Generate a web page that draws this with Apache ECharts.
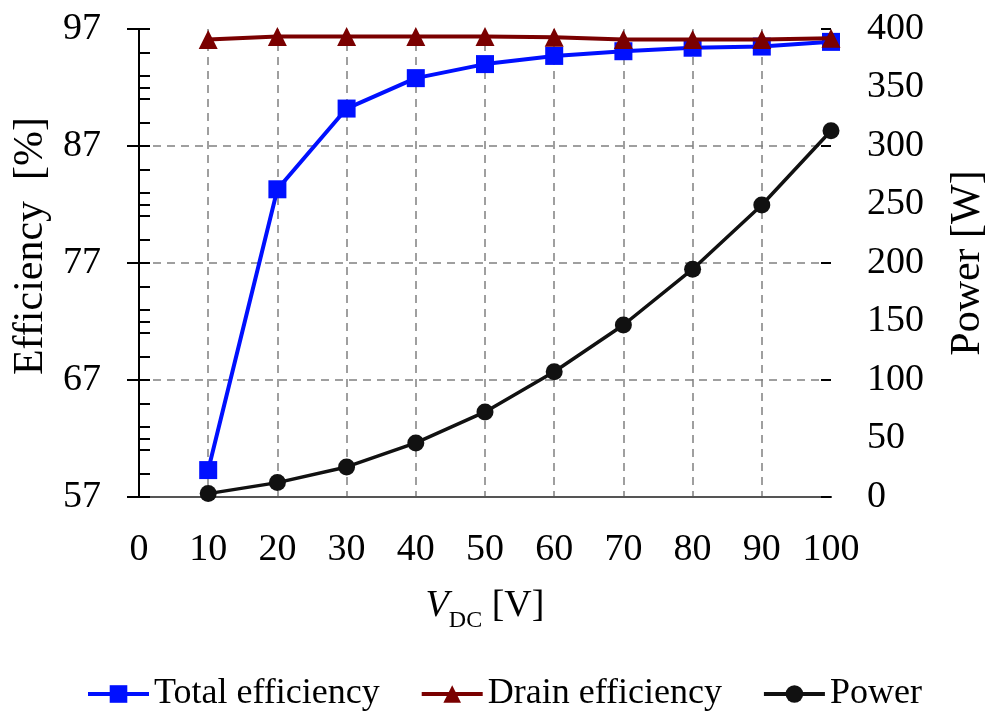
<!DOCTYPE html>
<html>
<head>
<meta charset="utf-8">
<script src="https://cdn.jsdelivr.net/npm/echarts@6/dist/echarts.min.js"></script>
<style>
html,body{margin:0;padding:0;background:#fff;}
#chart{width:997px;height:711px;}
</style>
</head>
<body>
<div id="chart"></div>
<script>
var vdc = [10, 20, 30, 40, 50, 60, 70, 80, 90, 100];
var totalEfficiency = [59.3, 83.3, 90.2, 92.8, 94.0, 94.7, 95.1, 95.4, 95.5, 95.9];
var drainEfficiency = [96.1, 96.35, 96.35, 96.35, 96.35, 96.3, 96.1, 96.1, 96.1, 96.2];
var power = [2.9, 12.3, 25.7, 46.2, 72.7, 107, 147, 194.7, 249.6, 313];
var seriesNames = ['Total efficiency', 'Drain efficiency', 'Power'];

function pairs(xs, ys) { return xs.map(function (x, i) { return [x, ys[i]]; }); }

var FONT = '"Liberation Serif", "Times New Roman", serif';
var chart = echarts.init(document.getElementById('chart'), null, {renderer: 'canvas'});

var option = {
  backgroundColor: '#ffffff',
  animation: false,
  textStyle: {fontFamily: FONT, color: '#000'},
  grid: {left: 139, right: 165, top: 29, bottom: 214, containLabel: false},
  legend: {
    data: seriesNames,
    left: 81,
    top: 671,
    itemWidth: 61,
    itemHeight: 22,
    itemGap: 40,
    lineStyle: {width: 4},
    textStyle: {fontFamily: FONT, fontSize: 36, color: '#000'}
  },
  xAxis: [{
    type: 'value', min: 0, max: 100, interval: 10, position: 'bottom',
    name: '{i|V}{s|DC}{n| [V]}',
    nameLocation: 'middle', nameGap: 90,
    nameTextStyle: {
      fontFamily: FONT,
      rich: {
        i: {fontFamily: FONT, fontStyle: 'italic', fontSize: 38, color: '#000', padding: [0, 0, 8, 0], verticalAlign: 'bottom'},
        s: {fontFamily: FONT, fontSize: 24, color: '#000', verticalAlign: 'bottom'},
        n: {fontFamily: FONT, fontSize: 38, color: '#000', padding: [0, 0, 8, 0], verticalAlign: 'bottom'}
      }
    },
    axisLine: {show: true, lineStyle: {color: '#000', width: 2}},
    axisTick: {show: false},
    axisLabel: {fontFamily: FONT, fontSize: 38, color: '#000', margin: 34},
    splitLine: {show: true, showMinLine: false, showMaxLine: false, lineStyle: {color: '#808080', width: 1.5, type: [8, 6]}}
  }, {
    type: 'value', min: 0, max: 100, position: 'top',
    axisLine: {show: true, lineStyle: {color: '#555', width: 2}},
    axisTick: {show: false}, axisLabel: {show: false}, splitLine: {show: false}
  }],
  yAxis: [{
    type: 'value', min: 57, max: 97, interval: 10, position: 'left',
    name: 'Efficiency  [%]', nameLocation: 'middle', nameGap: 86, nameRotate: 90,
    nameTextStyle: {fontFamily: FONT, fontSize: 42, color: '#000', padding: [0, 0, 0, 34]},
    axisLine: {show: true, lineStyle: {color: '#000', width: 2}},
    axisTick: {show: true, inside: false, length: 12, lineStyle: {color: '#000', width: 2}},
    axisLabel: {fontFamily: FONT, fontSize: 38, color: '#000', margin: 38},
    splitLine: {show: true, showMinLine: false, showMaxLine: false, lineStyle: {color: '#808080', width: 1.5, type: [8, 6]}}
  }, {
    type: 'value', min: 0, max: 400, interval: 50, position: 'right',
    name: 'Power [W]', nameLocation: 'middle', nameGap: 116, nameRotate: 90,
    nameTextStyle: {fontFamily: FONT, fontSize: 42, color: '#000'},
    axisLine: {show: true, lineStyle: {color: '#000', width: 2}},
    axisTick: {show: true, inside: false, length: 11, lineStyle: {color: '#000', width: 2}},
    axisLabel: {show: true, fontFamily: FONT, fontSize: 38, color: '#000', margin: 36},
    splitLine: {show: false}
  }, {
    type: 'value', min: 57, max: 97, interval: 2, position: 'left',
    axisLine: {show: false},
    axisTick: {show: true, inside: true, length: 11, lineStyle: {color: '#000', width: 2}},
    axisLabel: {show: false}, splitLine: {show: false}
  }, {
    type: 'value', min: 0, max: 400, interval: 100, position: 'right',
    axisLine: {show: false},
    axisTick: {show: true, inside: true, length: 10, lineStyle: {color: '#000', width: 2}},
    axisLabel: {show: false}, splitLine: {show: false}
  }],
  series: [{
    name: seriesNames[0], type: 'line', xAxisIndex: 0, yAxisIndex: 0,
    data: pairs(vdc, totalEfficiency),
    symbol: 'rect', symbolSize: 18,
    lineStyle: {color: '#0010ff', width: 4},
    itemStyle: {color: '#0010ff'},
    z: 3
  }, {
    name: seriesNames[1], type: 'line', xAxisIndex: 0, yAxisIndex: 0,
    data: pairs(vdc, drainEfficiency),
    symbol: 'triangle', symbolSize: 19,
    lineStyle: {color: '#7a0000', width: 4},
    itemStyle: {color: '#7a0000'},
    z: 4
  }, {
    name: seriesNames[2], type: 'line', xAxisIndex: 0, yAxisIndex: 1,
    data: pairs(vdc, power),
    symbol: 'circle', symbolSize: 17,
    lineStyle: {color: '#111', width: 3.5},
    itemStyle: {color: '#111'},
    z: 5
  }]
};
chart.setOption(option);
</script>
</body>
</html>
